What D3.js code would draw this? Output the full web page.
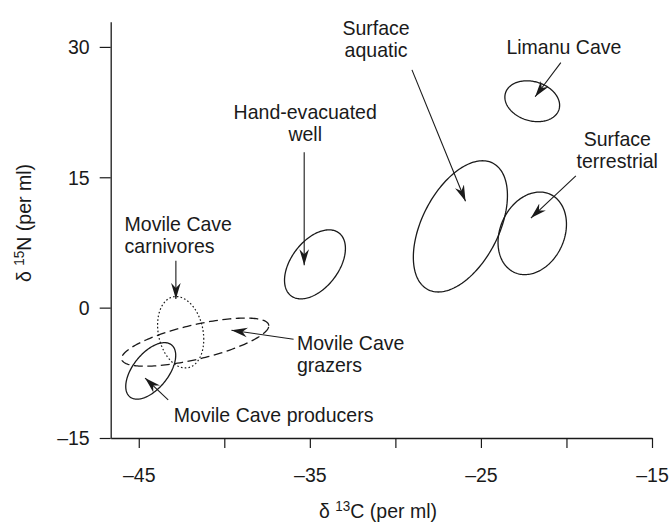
<!DOCTYPE html>
<html>
<head>
<meta charset="utf-8">
<script src="https://cdn.jsdelivr.net/npm/d3@7"></script>
<style>
  body { margin: 0; background: #fff; }
  svg { display: block; }
  text { font-family: "Liberation Sans", Arial, Helvetica, sans-serif; fill: #1a1a1a; }
</style>
</head>
<body>
<svg id="chart" width="669" height="529"></svg>
<script>
// Isotopic niche ellipses (δ13C vs δ15N) for each community
const groups = ["Limanu Cave", "Surface aquatic", "Surface terrestrial", "Hand-evacuated well",
                "Movile Cave carnivores", "Movile Cave grazers", "Movile Cave producers"];
const centerC = [-22.0, -26.2, -22.0, -34.7, -42.55, -41.7, -44.3];
const centerN = [23.75, 9.35, 8.55, 4.98, -2.83, -3.97, -7.28];
const sdC     = [1.6, 2.75, 2.0, 1.78, 1.35, 4.3, 1.46];
const sdN     = [2.35, 7.55, 4.75, 3.97, 4.11, 2.77, 3.25];
const corr    = [-0.2, 0.47, 0.22, 0.46, -0.2, 0.68, 0.55];
const lineStyle = ["solid", "solid", "solid", "solid", "dotted", "dashed", "solid"];

// Annotation text and where it sits (in δ13C / δ15N units)
const labelLines  = [["Limanu Cave"], ["Surface", "aquatic"], ["Surface", "terrestrial"],
                     ["Hand-evacuated", "well"], ["Movile Cave", "carnivores"],
                     ["Movile Cave", "grazers"], ["Movile Cave producers"]];
const labelC      = [-20.15, -31.13, -17.03, -35.27, -45.83, -35.75, -42.95];
const labelN      = [30.0, 32.29, 19.42, 22.52, 9.73, -4.03, -12.25];
const labelAnchor = ["middle", "middle", "middle", "middle", "start", "start", "start"];

// Leader arrows from each label to its ellipse
const arrowFromC = [-20.33, -29.03, -19.45, -35.33, -42.83, -35.95, -43.28];
const arrowFromN = [28.2, 27.36, 15.16, 17.87, 5.39, -3.64, -10.62];
const arrowToC   = [-21.83, -25.9, -22.08, -35.33, -42.83, -39.58, -44.63];
const arrowToN   = [24.26, 12.25, 10.31, 4.88, 1.0, -2.6, -8.1];

// Axes
const xTicks      = [-45, -40, -35, -30, -25, -20, -15];
const xTickLabels = ["–45", "", "–35", "", "–25", "", "–15"];
const yTicks      = [30, 15, 0, -15];
const yTickLabels = ["30", "15", "0", "–15"];

const svg = d3.select("#chart");
const ink = "#1a1a1a";
const fontSize = 21;
const squeeze = 0.93;   // slightly condensed type

const x = d3.scaleLinear().domain([-46.64, -15]).range([110.7, 652]);
const y = d3.scaleLinear().domain([-15, 32.9]).range([438, 21.7]);

// narrow the glyphs while keeping each text anchored where it was placed
function condense(sel) {
  sel.each(function () {
    const t = d3.select(this);
    const x0 = +t.attr("x") || 0;
    t.attr("x", x0 / squeeze)
     .attr("transform", `scale(${squeeze},1)`);
  });
}

// arrowhead
svg.append("defs").append("marker")
  .attr("id", "head")
  .attr("viewBox", "-16 -6 17 12")
  .attr("refX", 0).attr("refY", 0)
  .attr("markerWidth", 17).attr("markerHeight", 12)
  .attr("markerUnits", "userSpaceOnUse")
  .attr("orient", "auto")
  .append("path")
  .attr("d", "M0,0 L-16,-4.8 L-11,0 L-16,4.8 Z")
  .attr("fill", ink);

// x axis
const xAxis = d3.axisBottom(x)
  .tickValues(xTicks)
  .tickFormat((d, i) => xTickLabels[i])
  .tickSize(10).tickSizeOuter(0).tickPadding(19);
const gx = svg.append("g").attr("transform", `translate(0,${y(-15)})`).call(xAxis);
gx.select(".domain").attr("stroke", ink).attr("stroke-width", 1.3);
gx.selectAll(".tick line").attr("stroke", ink).attr("stroke-width", 1.2);
gx.selectAll(".tick text").attr("font-size", fontSize).attr("fill", ink)
  .attr("font-family", '"Liberation Sans", Arial, sans-serif')
  .call(condense);

// y axis
const yAxis = d3.axisLeft(y)
  .tickValues(yTicks)
  .tickFormat((d, i) => yTickLabels[i])
  .tickSize(11).tickSizeOuter(0).tickPadding(10);
const gy = svg.append("g").attr("transform", `translate(${x(-46.64)},0)`).call(yAxis);
gy.select(".domain").attr("stroke", ink).attr("stroke-width", 1.3);
gy.selectAll(".tick line").attr("stroke", ink).attr("stroke-width", 1.2);
gy.selectAll(".tick text").attr("font-size", fontSize).attr("fill", ink)
  .attr("font-family", '"Liberation Sans", Arial, sans-serif')
  .call(condense);

// axis titles with superscript mass numbers
function isoTitle(sel, mass, element) {
  sel.append("tspan").text("δ ");
  sel.append("tspan").attr("font-size", 14.5).attr("dy", -7.5).text(mass);
  sel.append("tspan").attr("dy", 7.5).text(element + " (per ml)");
}
svg.append("text")
  .attr("transform", `translate(378,518) scale(${squeeze},1)`)
  .attr("text-anchor", "middle").attr("font-size", fontSize)
  .call(isoTitle, "13", "C");
svg.append("text")
  .attr("transform", `translate(31,223) rotate(-90) scale(${squeeze},1)`)
  .attr("text-anchor", "middle").attr("font-size", fontSize)
  .call(isoTitle, "15", "N");

// ellipses: bivariate standard ellipse from centre, spreads and correlation
const tSteps = d3.range(0, 2 * Math.PI, Math.PI / 90);
const ellipseLine = d3.line()
  .x(p => x(p[0])).y(p => y(p[1]))
  .curve(d3.curveLinearClosed);

const dashFor = { solid: null, dotted: "1.6,2.2", dashed: "9,4.5" };

groups.forEach((g, i) => {
  const r = corr[i];
  const pts = tSteps.map(t => [
    centerC[i] + sdC[i] * Math.cos(t),
    centerN[i] + sdN[i] * (r * Math.cos(t) + Math.sqrt(1 - r * r) * Math.sin(t))
  ]);
  svg.append("path")
    .attr("d", ellipseLine(pts))
    .attr("fill", "none")
    .attr("stroke", ink)
    .attr("stroke-width", lineStyle[i] === "dotted" ? 1.2 : 1.3)
    .attr("stroke-dasharray", dashFor[lineStyle[i]]);
});

// leader arrows
groups.forEach((g, i) => {
  svg.append("line")
    .attr("x1", x(arrowFromC[i])).attr("y1", y(arrowFromN[i]))
    .attr("x2", x(arrowToC[i])).attr("y2", y(arrowToN[i]))
    .attr("stroke", ink).attr("stroke-width", 1.1)
    .attr("marker-end", "url(#head)");
});

// labels
groups.forEach((g, i) => {
  const t = svg.append("text")
    .attr("transform", `translate(${x(labelC[i])},${y(labelN[i])}) scale(${squeeze},1)`)
    .attr("text-anchor", labelAnchor[i])
    .attr("font-size", fontSize);
  labelLines[i].forEach((line, k) => {
    t.append("tspan")
      .attr("x", 0)
      .attr("dy", k === 0 ? "0.36em" : 22)
      .text(line);
  });
});
</script>
</body>
</html>
